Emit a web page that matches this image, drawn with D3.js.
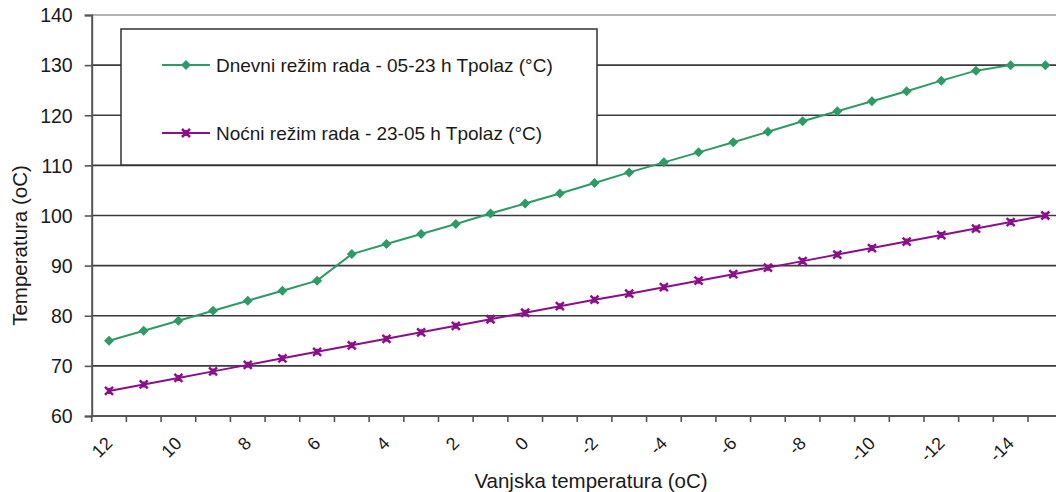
<!DOCTYPE html>
<html>
<head>
<meta charset="utf-8">
<script src="https://cdn.jsdelivr.net/npm/d3@7"></script>
<style>
  body { margin: 0; background: #fff; }
  text { font-family: "Liberation Sans", Arial, sans-serif; }
</style>
</head>
<body>
<div id="chart"></div>
<script>
// outdoor temperature categories (x axis)
const categories = [12, 11, 10, 9, 8, 7, 6, 5, 4, 3, 2, 1, 0, -1, -2, -3, -4, -5, -6, -7, -8, -9, -10, -11, -12, -13, -14, -15];
// day regime 05-23 h
const dayValues = [75, 77, 79, 81, 83, 85, 87, 92.3, 94.3, 96.3, 98.3, 100.4, 102.4, 104.4, 106.5, 108.6, 110.6, 112.6, 114.6, 116.7, 118.8, 120.8, 122.8, 124.8, 126.9, 128.9, 130, 130];
// night regime 23-05 h
const nightValues = [65, 66.3, 67.6, 68.9, 70.2, 71.5, 72.8, 74.1, 75.4, 76.7, 78, 79.3, 80.6, 81.9, 83.2, 84.4, 85.7, 87, 88.3, 89.6, 90.9, 92.2, 93.5, 94.8, 96.1, 97.4, 98.7, 100];
const yTicks = [60, 70, 80, 90, 100, 110, 120, 130, 140];
const seriesNames = ["Dnevni režim rada - 05-23 h Tpolaz (°C)", "Noćni režim rada - 23-05 h Tpolaz (°C)"];

const W = 1056, H = 492;
const plotL = 91.7, plotR = 1062.7, plotT = 15, plotB = 416;

const svg = d3.select('#chart').append('svg')
  .attr('width', W)
  .attr('height', H);

const x = d3.scaleBand().domain(categories).range([plotL, plotR]);
const bw = x.bandwidth();
const cx = d => x(d) + bw / 2;
const y = d3.scaleLinear().domain([60, 140]).range([plotB, plotT]);

// horizontal grid
svg.append('g')
  .selectAll('line')
  .data(yTicks.slice(1))
  .enter()
  .append('line')
  .attr('x1', plotL).attr('x2', W)
  .attr('y1', d => y(d)).attr('y2', d => y(d))
  .attr('stroke', d => d === 140 ? '#9a9a9a' : '#3a3a3a')
  .attr('stroke-width', 1.6);

// y axis
const yAxis = svg.append('g')
  .attr('transform', `translate(${plotL},0)`)
  .call(d3.axisLeft(y).tickValues(yTicks).tickSize(7).tickPadding(12));
yAxis.select('.domain').attr('stroke', '#555').attr('stroke-width', 2);
yAxis.selectAll('.tick line').attr('stroke', '#555').attr('stroke-width', 1.6);
yAxis.selectAll('.tick text').attr('font-size', 19.5).attr('fill', '#1a1a1a').attr('dy', '0.35em');

// x axis
const xAxis = svg.append('g')
  .attr('transform', `translate(0,${plotB})`)
  .call(d3.axisBottom(x).tickSize(6).tickFormat(d => (d % 2 === 0 ? d : '')));
xAxis.select('.domain').attr('stroke', '#555').attr('stroke-width', 2).attr('d', `M${plotL},0H${W}`);
xAxis.selectAll('.tick line').attr('x1', -bw / 2).attr('x2', -bw / 2)
  .attr('stroke', '#555').attr('stroke-width', 1.6);
xAxis.selectAll('.tick text')
  .attr('font-size', 18).attr('fill', '#1a1a1a')
  .attr('text-anchor', 'end')
  .attr('x', 0).attr('y', 0).attr('dy', '0.35em')
  .attr('transform', 'translate(0,24) rotate(-45)');

// axis titles
svg.append('text')
  .attr('x', 591).attr('y', 488)
  .attr('text-anchor', 'middle')
  .attr('font-size', 20.5).attr('fill', '#1a1a1a')
  .text('Vanjska temperatura (oC)');
svg.append('text')
  .attr('transform', `translate(27,${(plotT + plotB) / 2 + 30}) rotate(-90)`)
  .attr('text-anchor', 'middle')
  .attr('font-size', 20.5).attr('fill', '#1a1a1a')
  .text('Temperatura (oC)');

// legend box
svg.append('rect')
  .attr('x', 121).attr('y', 29).attr('width', 476).attr('height', 136)
  .attr('fill', '#fff').attr('stroke', '#333').attr('stroke-width', 1.5);

const colors = ['#2e9a66', '#8a0f8a'];
const line = d3.line().x((d, i) => cx(categories[i])).y(d => y(d));

function diamond(g, px, py, c) {
  g.append('path')
    .attr('d', `M${px},${py - 5}L${px + 5},${py}L${px},${py + 5}L${px - 5},${py}Z`)
    .attr('fill', c);
}
function cross(g, px, py, c) {
  g.append('path')
    .attr('d', `M${px - 4},${py - 4}L${px + 4},${py + 4}M${px - 4},${py + 4}L${px + 4},${py - 4}M${px},${py - 3}V${py + 3}`)
    .attr('stroke', c).attr('stroke-width', 2.5);
}

[dayValues, nightValues].forEach((vals, k) => {
  const g = svg.append('g');
  g.append('path')
    .attr('d', line(vals))
    .attr('fill', 'none')
    .attr('stroke', colors[k])
    .attr('stroke-width', 2);
  vals.forEach((v, i) => {
    if (k === 0) diamond(g, cx(categories[i]), y(v), colors[k]);
    else cross(g, cx(categories[i]), y(v), colors[k]);
  });
});

// legend entries
const legY = [65, 133];
seriesNames.forEach((name, k) => {
  const g = svg.append('g');
  g.append('line')
    .attr('x1', 162).attr('x2', 210)
    .attr('y1', legY[k]).attr('y2', legY[k])
    .attr('stroke', colors[k]).attr('stroke-width', 2);
  if (k === 0) diamond(g, 186, legY[k], colors[k]);
  else cross(g, 186, legY[k], colors[k]);
  g.append('text')
    .attr('x', 216).attr('y', legY[k])
    .attr('dy', '0.35em')
    .attr('font-size', 19).attr('fill', '#1a1a1a')
    .text(name);
});
</script>
</body>
</html>
